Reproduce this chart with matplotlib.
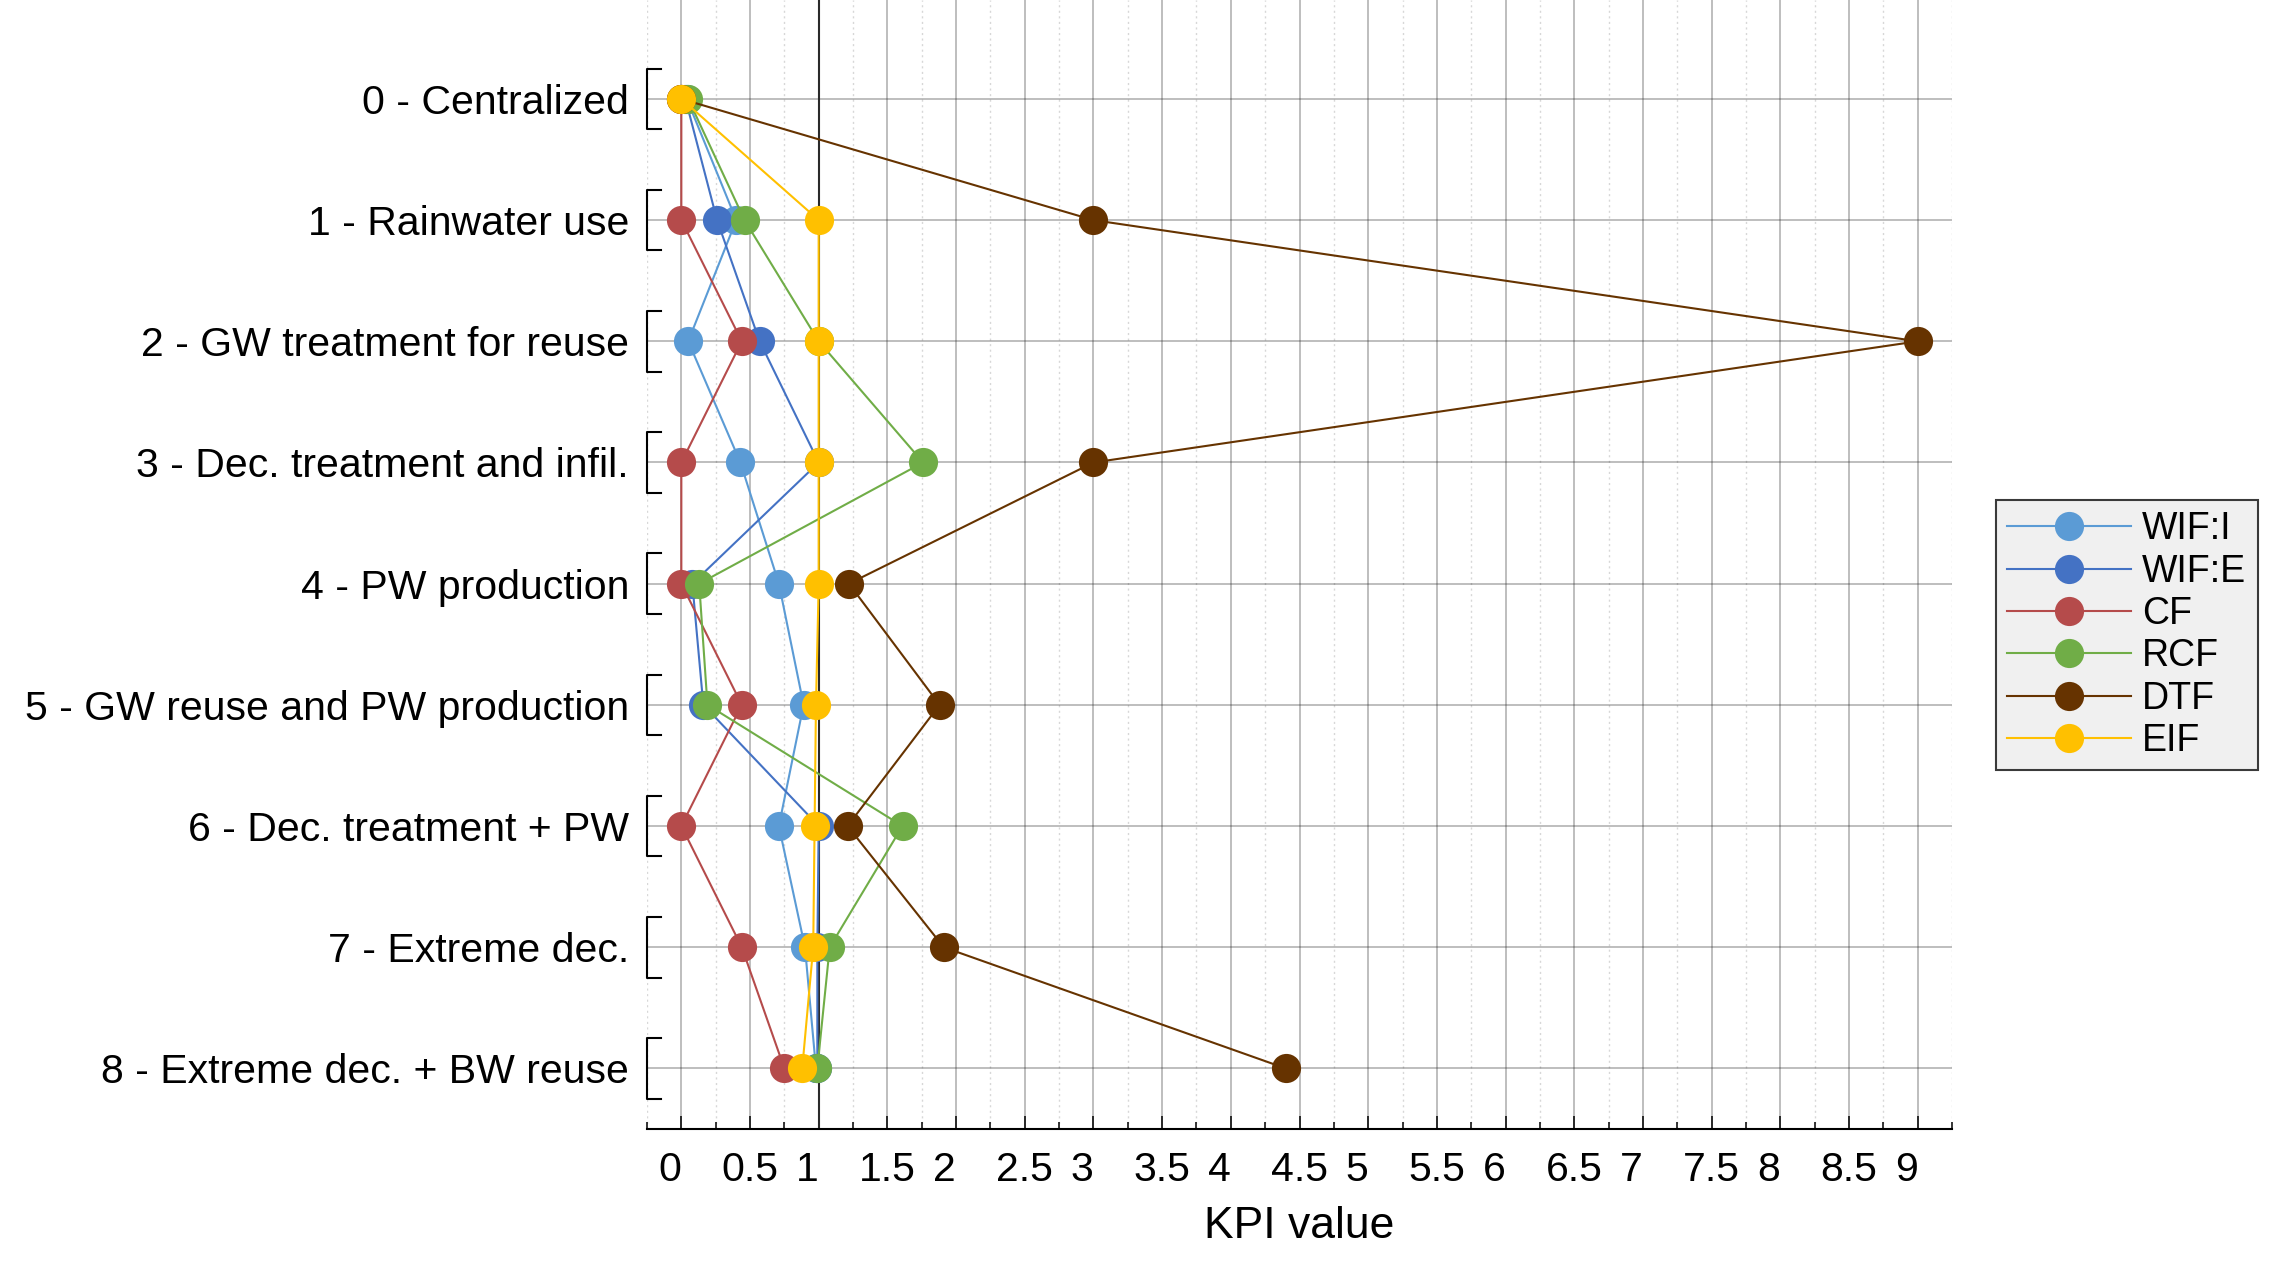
import matplotlib
matplotlib.use("Agg")
import matplotlib.pyplot as plt
import matplotlib.transforms as mtransforms
from matplotlib.ticker import MultipleLocator
import numpy as np

# data
categories = ["0 - Centralized", "1 - Rainwater use", "2 - GW treatment for reuse",
              "3 - Dec. treatment and infil.", "4 - PW production",
              "5 - GW reuse and PW production", "6 - Dec. treatment + PW",
              "7 - Extreme dec.", "8 - Extreme dec. + BW reuse"]
series_names = ["WIF:I", "WIF:E", "CF", "RCF", "DTF", "EIF"]
wif_i = [0.04, 0.40, 0.05, 0.43, 0.71, 0.89, 0.71, 0.90, 0.98]
wif_e = [0.03, 0.26, 0.57, 1.00, 0.08, 0.16, 1.00, 0.99, 0.99]
cf = [0.00, 0.00, 0.44, 0.00, 0.00, 0.44, 0.00, 0.44, 0.75]
rcf = [0.05, 0.46, 1.00, 1.76, 0.13, 0.19, 1.61, 1.08, 0.99]
dtf = [0.00, 3.00, 9.00, 3.00, 1.22, 1.88, 1.21, 1.91, 4.40]
eif = [0.00, 1.00, 1.00, 1.00, 1.00, 0.98, 0.97, 0.96, 0.88]
xtick_labels = ["0", "0.5", "1", "1.5", "2", "2.5", "3", "3.5", "4", "4.5",
                "5", "5.5", "6", "6.5", "7", "7.5", "8", "8.5", "9"]

colors = ["#5b9bd5", "#4472c4", "#b54b4b", "#70ad47", "#663300", "#ffc000"]

plt.rcParams["font.family"] = ["Liberation Sans", "DejaVu Sans"]

W, H = 2282, 1274
fig = plt.figure(figsize=(W / 100, H / 100), dpi=100)
ax = fig.add_axes([647 / W, 1 - 1129 / H, (1952 - 647) / W, 1129 / H])

y = np.arange(len(categories))
for vals, name, col in zip([wif_i, wif_e, cf, rcf, dtf, eif], series_names, colors):
    ax.plot(vals, y, "-o", color=col, lw=1.5, ms=21, mec="none", label=name, zorder=3)

ax.axvline(1, color="#2a2a2a", lw=1.5, zorder=1.8)

ax.set_xlim(-0.25, 9.25)
ax.set_ylim(8.5, -0.8165)

ax.set_xticks(np.arange(0, 9.01, 0.5))
ax.set_xticklabels(xtick_labels)
ax.xaxis.set_minor_locator(MultipleLocator(0.25))
for lbl in ax.get_xticklabels():
    if "." not in lbl.get_text():
        lbl.set_ha("right")
ax.tick_params(axis="x", which="major", direction="in", length=9.5, width=1.1,
               labelsize=29.5, pad=16, colors="black")
ax.tick_params(axis="x", which="minor", direction="in", length=5, width=1.1)

ax.set_yticks(y)
ax.set_yticklabels(categories, fontsize=29.5)
ax.tick_params(axis="y", length=0, pad=13)

ax.set_xlabel("KPI value", fontsize=32, labelpad=12)

ax.set_axisbelow(True)
ax.grid(which="major", axis="both", color="#262626", alpha=0.3, lw=1.4)
ax.grid(which="minor", axis="x", color="#262626", alpha=0.18, lw=1.0, ls=(0, (1.5, 2.5)))

for s in ["top", "right", "left"]:
    ax.spines[s].set_visible(False)
ax.spines["bottom"].set_linewidth(1.5)

# brackets at each category
trans = mtransforms.blended_transform_factory(ax.transAxes, ax.transData)
serif = 14 / (1952 - 647)
for i in y:
    ax.plot([serif, 0, 0, serif], [i - 0.25, i - 0.25, i + 0.25, i + 0.25],
            color="black", lw=1.5, transform=trans, clip_on=False, zorder=4)

leg = ax.legend(loc="upper left", bbox_to_anchor=(1996 / W, 1 - 500 / H),
                bbox_transform=fig.transFigure, borderaxespad=0, fontsize=27,
                handlelength=3.3, handletextpad=0.3, labelspacing=0.17,
                borderpad=0.3, fancybox=False, framealpha=1)
leg.get_frame().set_facecolor("#f0f0f0")
leg.get_frame().set_edgecolor("#3a3a3a")
leg.get_frame().set_linewidth(1.5)

fig.savefig("out.png", dpi=100)
